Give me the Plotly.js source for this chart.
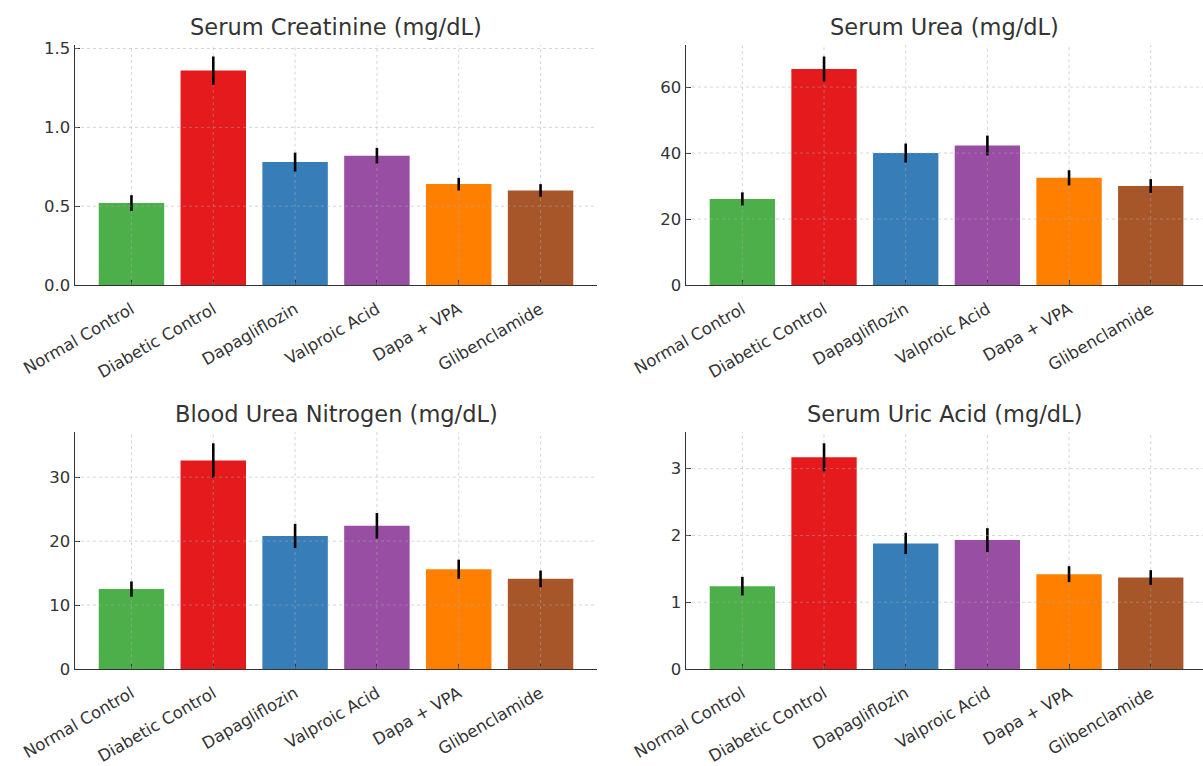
<!DOCTYPE html>
<html>
<head>
<meta charset="utf-8">
<script src="https://cdn.plot.ly/plotly-3.0.1.min.js"></script>
<style>
  html, body { margin: 0; padding: 0; background: #fff; }
  #chart { width: 1203px; height: 766px; }
</style>
</head>
<body>
<div id="chart"></div>
<script>
// Treatment groups and their bar colours
const groups = ['Normal Control', 'Diabetic Control', 'Dapagliflozin', 'Valproic Acid', 'Dapa + VPA', 'Glibenclamide'];
const groupColors = ['#4daf4a', '#e41a1c', '#377eb8', '#984ea3', '#ff7f00', '#a65628'];

// Renal markers: group means and standard deviations
const creatinineMean = [0.52, 1.36, 0.78, 0.82, 0.64, 0.60];
const creatinineSD   = [0.05, 0.09, 0.06, 0.05, 0.04, 0.04];

const ureaMean = [26.1, 65.5, 40.0, 42.3, 32.5, 30.0];
const ureaSD   = [2.0, 3.8, 2.9, 3.0, 2.3, 2.1];

const bunMean = [12.5, 32.6, 20.8, 22.4, 15.6, 14.1];
const bunSD   = [1.2, 2.7, 1.9, 2.0, 1.5, 1.3];

const uricMean = [1.24, 3.17, 1.88, 1.93, 1.42, 1.37];
const uricSD   = [0.14, 0.21, 0.16, 0.18, 0.12, 0.11];

// Panel titles, y tick step and tick format
const panelTitles = ['Serum Creatinine (mg/dL)', 'Serum Urea (mg/dL)', 'Blood Urea Nitrogen (mg/dL)', 'Serum Uric Acid (mg/dL)'];
const panelTickStep = [0.5, 20, 10, 1];
const panelTickFormat = ['.1f', 'd', 'd', 'd'];

const panels = [
  { mean: creatinineMean, sd: creatinineSD },
  { mean: ureaMean, sd: ureaSD },
  { mean: bunMean, sd: bunSD },
  { mean: uricMean, sd: uricSD }
];

// Subplot placement on the 1203 x 766 page
const W = 1203, H = 766;
const xDomains = [[75 / W, 597 / W], [686 / W, 1]];
const yDomains = [[1 - 285 / H, 1 - 45 / H], [1 - 669 / H, 1 - 432 / H]];
const xRanges = [[-0.69, 5.69], [-0.69, 5.64]];

const textColor = '#333333';
const fontFamily = 'DejaVu Sans, sans-serif';
const gridStyle = { color: 'rgba(170,170,170,0.55)', width: 0.9, dash: '3px,3px' };

const traces = [];
const layout = {
  width: W,
  height: H,
  margin: { l: 0, r: 0, t: 0, b: 0 },
  paper_bgcolor: '#ffffff',
  plot_bgcolor: '#ffffff',
  showlegend: false,
  font: { family: fontFamily, color: textColor, size: 16 },
  annotations: [],
  shapes: []
};

panels.forEach((p, k) => {
  const col = k % 2, row = Math.floor(k / 2);
  const s = k === 0 ? '' : String(k + 1);
  const xName = 'x' + s, yName = 'y' + s;

  traces.push({
    type: 'bar',
    x: groups,
    y: p.mean,
    width: 0.8,
    marker: { color: groupColors, line: { width: 0 } },
    error_y: { type: 'data', array: p.sd, visible: true, color: '#000000', thickness: 2.6, width: 0 },
    xaxis: xName,
    yaxis: yName,
    hoverinfo: 'x+y'
  });

  const top = Math.max(...p.mean.map((m, i) => m + p.sd[i])) * 1.05;

  layout['xaxis' + s] = {
    domain: xDomains[col],
    anchor: yName,
    type: 'category',
    range: xRanges[col],
    tickangle: -30,
    ticks: 'inside',
    ticklen: 5,
    tickwidth: 1,
    tickcolor: textColor,
    ticklabelstandoff: 7,
    showline: true,
    linecolor: textColor,
    linewidth: 1.4,
    showgrid: false,
    zeroline: false,
    tickfont: { size: 16.5, color: textColor, family: fontFamily },
    fixedrange: true
  };
  layout['yaxis' + s] = {
    domain: yDomains[row],
    anchor: xName,
    range: [0, top],
    dtick: panelTickStep[k],
    tick0: 0,
    tickformat: panelTickFormat[k],
    ticks: 'inside',
    ticklen: 5,
    tickwidth: 1,
    tickcolor: textColor,
    showline: true,
    linecolor: textColor,
    linewidth: 1.4,
    showgrid: false,
    zeroline: false,
    tickfont: { size: 16.5, color: textColor, family: fontFamily },
    fixedrange: true
  };

  // Panel title
  layout.annotations.push({
    text: panelTitles[k],
    xref: xName + ' domain', yref: yName + ' domain',
    x: 0.5, y: 1, xanchor: 'center', yanchor: 'bottom',
    yshift: 3,
    showarrow: false,
    font: { size: 22.5, color: textColor, family: fontFamily }
  });

  // Dashed grid drawn over the bars; the vertical lines leave a gap where the error bar sits
  groups.forEach((g, i) => {
    const lo = p.mean[i] - p.sd[i];
    const hi = p.mean[i] + p.sd[i];
    [[0, lo], [hi, top]].forEach(([a, b]) => {
      layout.shapes.push({
        type: 'line', layer: 'above',
        xref: xName, yref: yName,
        x0: g, x1: g, y0: a, y1: b,
        line: gridStyle
      });
    });
  });
  for (let v = panelTickStep[k]; v <= top + 1e-9; v += panelTickStep[k]) {
    layout.shapes.push({
      type: 'line', layer: 'above',
      xref: xName + ' domain', yref: yName,
      x0: 0, x1: 1, y0: v, y1: v,
      line: gridStyle
    });
  }
});

Plotly.newPlot('chart', traces, layout, { displayModeBar: false, staticPlot: true });
</script>
</body>
</html>
